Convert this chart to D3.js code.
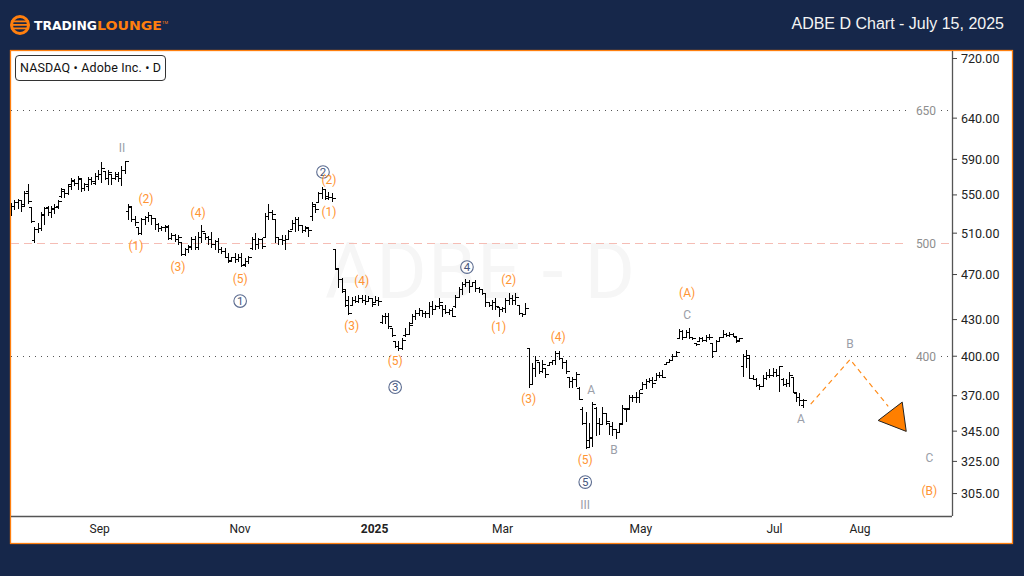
<!DOCTYPE html>
<html><head><meta charset="utf-8">
<script src="https://cdnjs.cloudflare.com/ajax/libs/d3/7.8.5/d3.min.js"></script>
<style>
html,body{margin:0;padding:0;background:#16274a;overflow:hidden}
svg{display:block}
text{font-family:Roboto,"Liberation Sans",sans-serif}
</style></head><body><svg id="c" width="1024" height="576"></svg>
<script>
// Each bar row: [open, high, low, close]
const barsJulSep = [
[529,541,527,537],[537,544,533.5,541],[541,545,534.5,543],[543,544,531.5,537],[539,554,538,551],[553,561.5,540,542],[535.5,537,520,521],[502,516,500,513],[513,520,510,514],[514,531.5,512,529],
[528,537,518,534.5],[535.5,538,527,530.5],[530.5,538,525,534.5],[533.5,540,529,535.5],[537,544,534.5,542],[547.5,557,546.5,555],[553,555,546.5,551],[551,561.5,549.5,560.5],[559,568,555,565],[564,567,559,561.5],
[561.5,570,555,568],[566,566,553,556],[557,562.5,554,560.5],[559,569,554,566],[566,569,560.5,564],[562.5,574,560.5,570],[570,577,566,572.5],[571.5,586.5,562.5,579],[575,576,566,568],[568,577,560.5,574],
[571.5,572.5,560.5,568],[568,575,566,571.5],[570,575,564,567],[568,582,559,577],[577,588,572.5,586.5]];
const barsSepDec = [
[531.5,540,523,537],[535.5,537,521,523],[523,527,517,520],[515,516,508,509],[509,525,508,523],[523,527,518,525],[525,531.5,521,528],[528,528,518,524],[524,525,513,518],[518,520,511,514],
[514,517,512,515],[515,518,511,516],[515,518,503,504],[504,510,503,507],[507,509,501,503],[503,508,498,505],[500,501,487.5,488.5],[488.5,495,487.5,493],[493,498,490,496],[495,506,493,503],
[503,507,493,495],[495,511,493,505],[505,518,500,511],[509,509,503,505],[505,507,498,503],[503,511,495,498],[498,503,493,501],[501,505,490,493],[493,496,488.5,491],[491,495,485,485.5],
[485.5,490,480,482],[483,486.5,482,485.5],[485.5,490,480,484],[484,488.5,481,485.5],[485.5,490,476.5,478],[479,485.5,477,482],[482,487.5,479,485.5],[494,506,493,503],[503,510,493,498],[498,505,494,503],
[503,505,494,496],[505,530.5,505,527],[527,540,523,530.5],[530.5,533.5,523,529],[523,524,500,505],[505,506,498,503],[503,508,498,502],[502,508,493,503],[503,513,503,511],[513,523,513,519],
[519,526,511,523],[523,526,512,517],[517,518,510,512],[512,517,511,514],[515,515,506,512],[527,542,522,539],[537,539,530.5,533.5],[541,553,541,551],[551,558,545,555],[555,556,544,546],
[548,553,544,547],[547,552,542,546]];
const barsDecMar = [
[493,494,474,475],[474,474,457,465],[465,466,453,455.5],[454.5,455.5,440.5,442],[446.5,450,433.5,434.5],[442,449,442,446.5],[446.5,450,444,445.5],[445.5,451,444,447.5],[447.5,451,444,446.5],[446.5,451,442,445.5],
[445.5,450,445,448],[448,448,440.5,443],[444,450,444,446.5],[446.5,449,441,445.5],[427.5,433.5,426,432],[432,435,426,432.5],[432.5,435,422,424],[422,422,415,416.5],[411,411,406,407.5],[407.5,412,404,405.5],
[405.5,414.5,404.5,412],[416,422.5,415,417.5],[417.5,427.5,417,425],[426.5,434.5,426.5,432.5],[432.5,438,429,435],[435,439.5,432.5,437],[437,438,432,435],[435,437,431,434.5],[434.5,445,431,441],[441,445.5,433.5,438.5],
[438.5,442,438,441],[441,448,438.5,444],[442,442,431.5,438],[438,442,434.5,436],[436,438.5,433.5,437],[437,439.5,432,432.5],[441,451,439.5,449],[449,458,448,456],[456,462.5,451,460],[460,465,458,462],
[462,464.5,453,459],[459,462.5,458,462],[462,464.5,453.5,457],[457,458,453,455.5],[455.5,455.5,451,452],[452,453,440.5,444],[444,445,440.5,442],[442,446.5,438,444],[444,448,438,440.5],[440,440.5,432,438.5],
[438.5,440.5,436,439.5],[439.5,448,435,446.5],[446.5,453,442,448],[448,451,442,446.5],[446.5,453,442,449],[442,442,433.5,435],[435,435,432,433.5],[433.5,444,433.5,439.5]];
const barsMarApr = [
[405.5,405.5,375.5,378],[378,394.5,377.5,390],[390,400,383.5,396],[395,395,385.5,387.5],[387.5,396.5,386.5,393.5],[390,390,382.5,385.5],[392.5,395,392,394.5],[394.5,396.5,392.5,396],[396,403.5,392.5,402],[402,403.5,396.5,398],
[397.5,397.5,390,394.5],[394.5,396.5,385.5,387.5],[383.5,383.5,375.5,380.5],[380.5,383.5,375.5,382],[382,387.5,376,385.5],[375,376,366.5,367]];
const barsAprMay = [
[359.5,361.5,349,350],[350,358,332.5,334],[338.5,350,334,340.5],[340,365,334,363],[360.5,361.5,341.5,350],[350,353.5,342,349],[349,361.5,349,357],[357,357,349,351],[350,350,342,347.5],[347.5,351,341.5,346],
[345.5,345.5,339.5,343.5],[344,350,344,349],[350,363,350,360.5],[360,360.5,351,359.5],[360.5,370,360.5,368.5],[368.5,370,365,368],[368,372,364.5,368.5],[368.5,374,364.5,371],[374,379.5,374,378],[378,382,374.5,380.5],
[380.5,382.5,379,381],[381,383.5,375.5,379],[381,386.5,381,385],[385,387.5,382.5,385],[385,389,382.5,383.5],[393.5,395,393.5,394.5],[395,397.5,395,396.5],[396.5,401,396.5,399.5],[399.5,403.5,399.5,402.5]];
const barsMayJul = [
[413.5,421.5,413.5,420],[420,421,412.5,415],[415,421,414.5,418.5],[418.5,422.5,413.5,414.5],[414.5,415,412.5,413.5],[410,410.5,408,409],[411.5,415,411,413.5],[413.5,415,411,412.5],[412.5,417,411,415],[415,417.5,412.5,414.5],
[410,410.5,398,403],[403,412.5,403,411],[411,415,411,414.5],[415,421,415,417],[417,418.5,415,416],[416,419,415,417],[417,418.5,415,415.5],[414.5,414.5,410.5,411],[412,414.5,411,413.5],[391.5,401,383.5,399],
[399,404.5,390.5,400],[398,400,382,382.5],[382.5,385,381,382],[382,382.5,376,377.5],[377.5,378,374,376.5],[376.5,385,376.5,382.5],[382.5,387,381,384.5],[384.5,390,382.5,385],[385,390.5,383.5,387],[387,390,383.5,385],
[385,392,372,391.5],[382,382.5,376.5,378],[378,382,376,379],[379,387,376,385],[383.5,383.5,371.5,372],[371.5,372,365,368],[368,371.5,362,366.5],[362.5,367,360.5,366.5]];

const priceTicks = [720,640,590,550,510,470,430,400,370,345,325,305];
const monthLabels = ["Sep","Nov","2025","Mar","May","Jul","Aug"];
const monthBars = [26.4,68.4,108.7,147,188.4,228.4,254];

const levelValues = [650,500,400];
const levelStyles = ["dot","dash","dot"];

const waveText  = ["II","(2)","(1)","(4)","(3)","(5)","①","②","(2)","(1)","(4)","(3)","(5)","③","④","(2)","(1)","(4)","(3)","A","(5)","⑤","III","B","(A)","C","B","A","C","(B)"];
const waveBar   = [33.2,40.4,37.4,56,50,68.6,68.6,93.4,95.2,95.2,105,102,115,115,136.5,149,146,163.8,155,173.7,171.9,171.9,171.9,180.5,202.4,202.4,251.2,236.5,274.9,274.9];
const wavePrice = [602.8,545,496.7,530.4,476.5,465.4,445.6,574.9,565.9,531.5,463.5,424.2,396,375.9,476.5,464.4,423.4,414.9,367.1,373.8,325.5,311.7,297.9,332,452.7,433.4,409.3,352.9,326.8,306.1];
const waveKind  = ["g","o","o","o","o","o","c","c","o","o","o","o","o","c","c","o","o","o","o","g","o","c","g","g","o","g","g","g","g","o"];

const projectionBar = [239.4,251.2,262.6];
const projectionPrice = [363.5,397,362];
const arrowBar = [259.6,266.8,268];
const arrowPrice = [352,365,344.5];

const bars = [...barsJulSep,...barsSepDec,...barsDecMar,...barsMarApr,...barsAprMay,...barsMayJul];

const svg = d3.select("#c");
const navy = "#16274a", orange = "#ff7f0e";
svg.append("rect").attr("width",1024).attr("height",576).attr("fill",navy);
svg.append("rect").attr("x",10.5).attr("y",50.5).attr("width",1002).attr("height",493)
   .attr("fill","#fff").attr("stroke",orange).attr("stroke-width",1.3);

const x = d3.scaleLinear().domain([0,281.7]).range([11,952]);
const y = d3.scaleLog().domain([291.5,730]).range([516,51]);

// watermark
svg.append("text").attr("x",480).attr("y",298).attr("text-anchor","middle")
   .attr("font-size",77).attr("fill","#f6f6f6").attr("textLength",310).attr("lengthAdjust","spacing").text("ADBE - D");

// level lines
levelValues.forEach((v,i)=>{
  const yy = Math.round(y(v))+0.5;
  const st = levelStyles[i]==="dot"
    ? {stroke:"#555",dash:"1 5",w:1}
    : {stroke:"#f5bdb5",dash:"8 5",w:1};
  [[11,908],[941,952]].forEach(s=>{
    svg.append("line").attr("x1",s[0]).attr("x2",s[1]).attr("y1",yy).attr("y2",yy)
       .attr("stroke",st.stroke).attr("stroke-width",st.w).attr("stroke-dasharray",st.dash);
  });
  svg.append("text").attr("x",926).attr("y",yy+4).attr("text-anchor","middle")
     .attr("font-size",12).attr("fill","#8e8e8e").text(v);
});

// OHLC
const g = svg.append("g").attr("stroke","#000").attr("stroke-width",1).attr("fill","none").attr("shape-rendering","crispEdges");
bars.forEach((b,i)=>{
  const cx = Math.round(x(i))+0.5;
  g.append("line").attr("x1",cx).attr("x2",cx).attr("y1",y(b[1])).attr("y2",y(b[2]));
  g.append("line").attr("x1",Math.max(11,cx-3)).attr("x2",cx).attr("y1",y(b[0])).attr("y2",y(b[0]));
  g.append("line").attr("x1",cx).attr("x2",cx+3).attr("y1",y(b[3])).attr("y2",y(b[3]));
});

// projection
const proj = d3.line().x((d,i)=>x(projectionBar[i])).y((d,i)=>y(projectionPrice[i]));
svg.append("path").attr("d",proj(projectionBar)).attr("fill","none").attr("stroke","#ff8c1a")
   .attr("stroke-width",1.2).attr("stroke-dasharray","5 4");
const tri = d3.line().x((d,i)=>x(arrowBar[i])).y((d,i)=>y(arrowPrice[i])).curve(d3.curveLinearClosed);
svg.append("path").attr("d",tri(arrowBar)).attr("fill","#ff7f00").attr("stroke","#222").attr("stroke-width",1);

// wave labels
const circled = {"①":"1","②":"2","③":"3","④":"4","⑤":"5"};
waveText.forEach((t,i)=>{
  const px = x(waveBar[i]), py = y(wavePrice[i]), k = waveKind[i];
  if(k==="c"){
    svg.append("circle").attr("cx",px).attr("cy",py).attr("r",6.3).attr("fill","#fff").attr("fill-opacity",.3)
       .attr("stroke","#5c6c90").attr("stroke-width",1.1);
    svg.append("text").attr("x",px).attr("y",py+4).attr("text-anchor","middle").attr("font-size",11.5)
       .attr("fill","#44557d").text(circled[t]);
  } else {
    svg.append("text").attr("x",px).attr("y",py+4).attr("text-anchor","middle").attr("font-size",12)
       .attr("fill",k==="o"?"#ff9433":"#9a9ea8").text(t);
  }
});

// axes
const yAxis = d3.axisRight(y).tickValues(priceTicks).tickFormat(d3.format(".2f")).tickSize(5).tickPadding(4);
const ya = svg.append("g").attr("transform","translate(952,0)").call(yAxis);
ya.selectAll("text").attr("font-size",12.5).attr("fill","#222").attr("dy","0.36em").style("font-family","Roboto");
ya.selectAll("line").attr("stroke","#444");
ya.select(".domain").attr("stroke","#555").attr("stroke-width",1.3).attr("d","M0.5,51V516");

const xAxis = d3.axisBottom(x).tickValues(monthBars).tickFormat((d,i)=>monthLabels[i]).tickSize(0).tickPadding(8);
const xa = svg.append("g").attr("transform","translate(0,516)").call(xAxis);
xa.selectAll("text").attr("font-size",12).attr("fill","#222").style("font-family","Roboto")
  .attr("font-weight",(d,i)=>monthLabels[i]==="2025"?"700":"400");
xa.select(".domain").attr("stroke","#555").attr("stroke-width",1.3).attr("d","M11,0.5H952");

// symbol box
svg.append("rect").attr("x",15.5).attr("y",55.5).attr("width",150).attr("height",25).attr("rx",3.5)
   .attr("fill","#fff").attr("stroke","#333");
svg.append("text").attr("x",20).attr("y",72).attr("font-size",12.5).attr("fill","#111")
   .attr("textLength",141).attr("lengthAdjust","spacing").text("NASDAQ • Adobe Inc. • D");

// title
svg.append("text").attr("x",1004).attr("y",29).attr("text-anchor","end").attr("font-size",16)
   .attr("fill","#f4f4f4").style("font-family","'Liberation Sans'").text("ADBE D Chart - July 15, 2025");

// logo
const lg = svg.append("g");
lg.append("circle").attr("cx",20).attr("cy",25).attr("r",8.5).attr("fill",navy).attr("stroke",orange).attr("stroke-width",3);
[20.5,24,27.5].forEach(v=>lg.append("rect").attr("x",11).attr("y",v).attr("width",18).attr("height",1.8).attr("fill",orange));
lg.append("text").attr("x",34).attr("y",30).attr("font-size",13).attr("font-weight",700).attr("fill","#fff")
  .attr("textLength",63).attr("lengthAdjust","spacingAndGlyphs").style("font-family","'DejaVu Sans'").text("TRADING");
lg.append("text").attr("x",97).attr("y",30).attr("font-size",13).attr("font-weight",700).attr("fill",orange)
  .attr("textLength",65).attr("lengthAdjust","spacingAndGlyphs").style("font-family","'DejaVu Sans'").text("LOUNGE");
lg.append("text").attr("x",162).attr("y",24).attr("font-size",4).attr("fill",orange).text("TM");
</script></body></html>
